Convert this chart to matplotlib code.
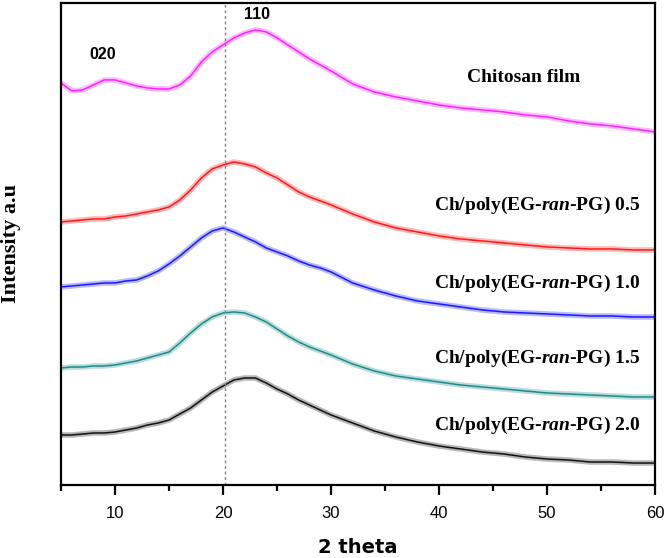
import numpy as np
import matplotlib.pyplot as plt
from matplotlib.ticker import MultipleLocator

plt.rcParams['mathtext.fontset'] = 'custom'
plt.rcParams['mathtext.it'] = 'Liberation Serif:italic:bold'
plt.rcParams['mathtext.rm'] = 'Liberation Serif:bold'

# 2 theta positions (deg) and stacked intensities (a.u., offset per sample)
two_theta = [5, 6, 7, 8, 9, 10, 11, 12, 13, 14, 15, 16, 17, 18, 19, 20,
             21, 22, 23, 24, 25, 26, 27, 28, 29, 30, 32, 34, 36, 38, 40,
             42, 44, 46, 48, 50, 52, 54, 56, 58, 60]

chitosan = [402, 394, 395, 400, 405, 405, 402, 399, 397, 396, 396, 400, 409, 423, 433, 440,
            447, 452, 455, 453, 447, 440, 433, 426, 420, 414, 401, 393, 388, 384, 380,
            377, 375, 373, 370, 368, 364, 361, 359, 356, 353]
blend_05 = [263, 264, 265, 266, 266, 268, 269, 271, 273, 275, 278, 285, 295, 307, 316, 320,
            323, 321, 318, 312, 307, 300, 293, 288, 284, 280, 271, 263, 257, 253, 249,
            246, 244, 242, 240, 238, 237, 236, 236, 235, 235]
blend_10 = [198, 199, 200, 201, 202, 202, 204, 205, 209, 214, 221, 229, 238, 247, 254, 257,
            253, 248, 243, 237, 233, 229, 224, 220, 217, 213, 202, 195, 189, 184, 181,
            178, 175, 173, 172, 171, 170, 169, 169, 168, 168]
blend_15 = [117, 118, 118, 119, 119, 120, 122, 124, 127, 130, 133, 142, 152, 161, 168, 172,
            173, 172, 168, 163, 156, 149, 143, 138, 134, 130, 121, 114, 109, 106, 103,
            100, 98, 96, 94, 92, 91, 90, 89, 88, 88]
blend_20 = [50, 50, 51, 52, 52, 53, 55, 57, 60, 62, 65, 71, 77, 85, 93, 99,
            105, 107, 107, 102, 96, 91, 85, 80, 75, 70, 62, 54, 48, 43, 39,
            36, 33, 31, 28, 26, 25, 23, 23, 22, 22]

series = [chitosan, blend_05, blend_10, blend_15, blend_20]
colors = ['#ff22ff', '#ff1a1a', '#1a1aff', '#1f8c8c', '#111111']
labels = ['Chitosan film', 'Ch/poly(EG-$ran$-PG) 0.5',
          'Ch/poly(EG-$ran$-PG) 1.0', 'Ch/poly(EG-$ran$-PG) 1.5',
          'Ch/poly(EG-$ran$-PG) 2.0']
label_xy = [(53.1, 407), (58.6, 280), (58.6, 202), (58.6, 127), (58.6, 60)]

fig = plt.figure(figsize=(6.66, 5.58), dpi=100)
ax = fig.add_axes([0.0916, 0.1308, 0.892, 0.864])

for y, c in zip(series, colors):
    ax.plot(two_theta, y, color=c, lw=4, alpha=0.3)
    ax.plot(two_theta, y, color=c, lw=1.1)

for (lx, ly), lab in zip(label_xy, labels):
    ax.text(lx, ly, lab, ha='right', va='center', fontsize=14, fontweight='bold',
            family='Liberation Serif')

ax.axvline(20.2, color='grey', ls=(0, (2, 2)), lw=1)
ax.text(8.9, 430, '020', ha='center', va='center', fontsize=11.5, fontweight='bold',
        family='Liberation Sans')
ax.text(23.1, 470, '110', ha='center', va='center', fontsize=11.5, fontweight='bold',
        family='Liberation Sans')

ax.set_xlim(5, 60)
ax.set_ylim(0, 482)
ax.set_yticks([])
ax.xaxis.set_major_locator(MultipleLocator(10))
ax.xaxis.set_minor_locator(MultipleLocator(5))
ax.tick_params(axis='x', which='major', length=7, width=1.6, pad=8, labelsize=12)
ax.tick_params(axis='x', which='minor', length=4, width=1.6)
for t in ax.get_xticklabels():
    t.set_family('Liberation Sans')
for s in ax.spines.values():
    s.set_linewidth(1.6)

ax.set_xlabel('2 theta', fontsize=14, fontweight='bold', labelpad=12)
ax.set_ylabel('Intensity a.u', fontsize=16, fontweight='bold', family='Liberation Serif')
ax.yaxis.set_label_coords(-0.068, 0.50)

fig.savefig('out.png', dpi=100)
